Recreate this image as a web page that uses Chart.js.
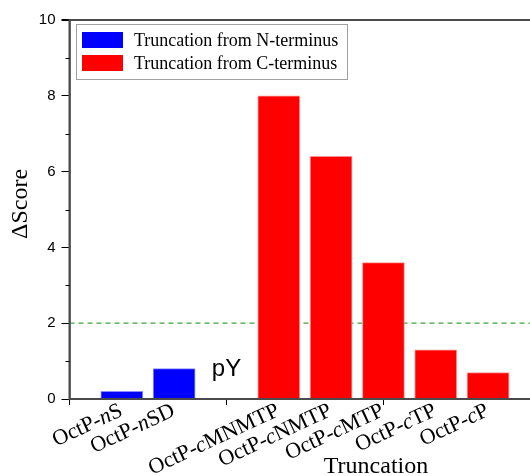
<!DOCTYPE html>
<html>
<head>
<meta charset="utf-8">
<script src="https://cdn.jsdelivr.net/npm/chart.js@4.4.1/dist/chart.umd.min.js"></script>
<style>
  body { margin: 0; overflow: hidden; background: #fff; }
  #wrap { width: 560px; height: 476px; }
</style>
</head>
<body>
<div id="wrap"><canvas id="barChart"></canvas></div>
<script>
// categories and values
var nLabels = ["OctP-nS", "OctP-nSD"];
var nPos = [1, 2];
var nValues = [0.2, 0.8];
var cLabels = ["OctP-cMNMTP", "OctP-cNMTP", "OctP-cMTP", "OctP-cTP", "OctP-cP"];
var cPos = [4, 5, 6, 7, 8];
var cValues = [8.0, 6.4, 3.6, 1.3, 0.7];
var threshold = 2;
var pYPos = 3;

var serif = "'Liberation Serif', 'Times New Roman', serif";
var sans = "'Liberation Sans', Arial, sans-serif";

var decor = {
  id: 'decor',
  afterDraw: function (chart) {
    var ctx = chart.ctx, a = chart.chartArea;
    var xs = chart.scales.x, ys = chart.scales.y;
    ctx.save();

    // frame round the plot area (top edge is the one that shows)
    ctx.strokeStyle = '#4a4a4a';
    ctx.lineWidth = 2;
    ctx.setLineDash([]);
    ctx.strokeRect(a.left, a.top, a.right - a.left + 10, a.bottom - a.top);

    // minor y ticks
    ctx.fillStyle = '#000';
    for (var v = 1; v < 10; v += 2) {
      var py = Math.round(ys.getPixelForValue(v));
      ctx.fillRect(a.left - 4, py, 4, 1);
    }

    // legend
    ctx.fillStyle = '#fff';
    ctx.fillRect(76, 24, 271, 55);
    ctx.strokeStyle = '#a0a0a0';
    ctx.lineWidth = 1;
    ctx.strokeRect(76.5, 24.5, 271, 55);
    var bars = chart.data.datasets.filter(function (d) { return d.type === 'bar'; });
    ctx.font = '18px ' + serif;
    ctx.textBaseline = 'alphabetic';
    ctx.textAlign = 'left';
    bars.forEach(function (d, i) {
      var top = 32 + i * 23;
      ctx.fillStyle = d.backgroundColor;
      ctx.fillRect(82, top, 41, 16);
      ctx.fillStyle = '#000';
      ctx.fillText(d.label, 134, top + 14);
    });

    // pY note
    ctx.font = '24px ' + sans;
    ctx.textAlign = 'center';
    ctx.fillStyle = '#000';
    ctx.fillText('pY', xs.getPixelForValue(pYPos), 376);

    // category labels with italic n / c
    var all = nLabels.map(function (l, i) { return [l, nPos[i]]; })
      .concat(cLabels.map(function (l, i) { return [l, cPos[i]]; }));
    all.forEach(function (item) {
      var label = item[0];
      var parts = [label.slice(0, 5), label.charAt(5), label.slice(6)];
      var fonts = ['22px ' + serif, 'italic 22px ' + serif, '22px ' + serif];
      var widths = parts.map(function (p, k) { ctx.font = fonts[k]; return ctx.measureText(p).width; });
      var total = widths[0] + widths[1] + widths[2];
      ctx.save();
      ctx.translate(xs.getPixelForValue(item[1]) + 2, 415);
      ctx.rotate(-25 * Math.PI / 180);
      ctx.textAlign = 'left';
      var x = -total;
      parts.forEach(function (p, k) {
        ctx.font = fonts[k];
        ctx.fillText(p, x, 0);
        x += widths[k];
      });
      ctx.restore();
    });

    // axis titles
    ctx.font = '24px ' + serif;
    ctx.textAlign = 'center';
    ctx.fillText('Truncation', 376, 473);
    ctx.save();
    ctx.translate(27, 204);
    ctx.rotate(-Math.PI / 2);
    ctx.fillText('\u0394Score', 0, 0);
    ctx.restore();

    ctx.restore();
  }
};

new Chart(document.getElementById('barChart').getContext('2d'), {
  type: 'bar',
  data: {
    datasets: [{
      type: 'bar',
      label: 'Truncation from N-terminus',
      data: nPos.map(function (x, i) { return { x: x, y: nValues[i] }; }),
      backgroundColor: '#0000ff',
      borderColor: '#8c8cff',
      borderWidth: 1,
      barThickness: 42,
      grouped: false
    }, {
      type: 'bar',
      label: 'Truncation from C-terminus',
      data: cPos.map(function (x, i) { return { x: x, y: cValues[i] }; }),
      backgroundColor: '#ff0000',
      borderColor: '#ff9090',
      borderWidth: 1,
      barThickness: 42,
      grouped: false
    }, {
      type: 'line',
      label: 'threshold',
      data: [{ x: 0, y: threshold }, { x: 9, y: threshold }],
      borderColor: '#3aa53a',
      borderWidth: 1.3,
      borderDash: [5, 4],
      pointRadius: 0
    }]
  },
  options: {
    responsive: true,
    maintainAspectRatio: false,
    animation: false,
    layout: { padding: { top: 20, right: 19.6, left: 0, bottom: 0 } },
    plugins: { legend: { display: false }, tooltip: { enabled: false } },
    scales: {
      x: {
        type: 'linear',
        min: 0,
        max: 9,
        offset: false,
        afterFit: function (s) { s.height = 77; },
        ticks: { stepSize: 3, display: false },
        grid: { offset: false, drawOnChartArea: false, tickLength: 6, color: '#000' },
        border: { color: '#000', width: 1.5 }
      },
      y: {
        min: 0,
        max: 10,
        afterFit: function (s) { s.width = 69.5; },
        ticks: {
          stepSize: 1,
          padding: 6,
          color: '#000',
          font: { family: sans, size: 15 },
          callback: function (v) { return v % 2 === 0 ? v : ''; }
        },
        grid: {
          drawOnChartArea: true,
          tickLength: 8,
          lineWidth: function (c) { return c.tick && c.tick.value === 10 ? 2 : 1; },
          color: function (c) { return c.tick && c.tick.value === 10 ? '#4a4a4a' : 'rgba(0,0,0,0)'; },
          tickColor: function (c) { return c.tick && c.tick.value % 2 === 0 ? '#000' : 'rgba(0,0,0,0)'; }
        },
        border: { color: '#000', width: 1.5 }
      }
    }
  },
  plugins: [decor]
});
</script>
</body>
</html>
